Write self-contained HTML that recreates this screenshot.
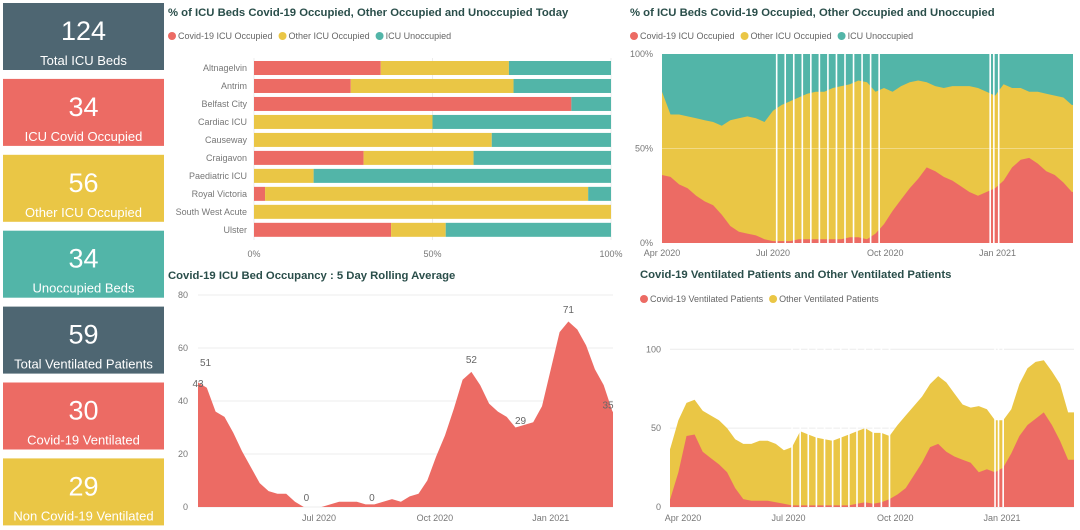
<!DOCTYPE html>
<html><head><meta charset="utf-8">
<style>
html,body{margin:0;padding:0;background:#fff;}
svg{display:block;font-family:"Liberation Sans",sans-serif;}
.t{font-size:11.3px;font-weight:bold;fill:#2a4e4a;}
.lg{font-size:9px;fill:#666;}
.ax{font-size:9px;fill:#777;}
</style></head>
<body>
<svg id="s" width="1080" height="530" viewBox="0 0 1080 530">
<g id="cards"></g>
<g id="bars">
  <text class="t" x="168" y="16">% of ICU Beds Covid-19 Occupied, Other Occupied and Unoccupied Today</text>
</g>
<g id="pct">
  <text class="t" x="630" y="16">% of ICU Beds Covid-19 Occupied, Other Occupied and Unoccupied</text>
</g>
<g id="roll">
  <text class="t" x="168" y="279">Covid-19 ICU Bed Occupancy : 5 Day Rolling Average</text>
</g>
<g id="vent">
  <text class="t" x="640" y="278">Covid-19 Ventilated Patients and Other Ventilated Patients</text>
</g>
</svg>
<script>
// ---- KPI data ----
const kpiValues = [124, 34, 56, 34, 59, 30, 29];
const kpiLabels = ["Total ICU Beds","ICU Covid Occupied","Other ICU Occupied","Unoccupied Beds","Total Ventilated Patients","Covid-19 Ventilated","Non Covid-19 Ventilated"];
// ---- today bar chart ----
const hospitals = ["Altnagelvin","Antrim","Belfast City","Cardiac ICU","Causeway","Craigavon","Paediatric ICU","Royal Victoria","South West Acute","Ulster"];
const covidToday = [35.5,27.1,88.9,0,0,30.7,0,3.1,0,38.4];
const otherToday = [35.9,45.6,0,50,66.6,30.8,16.7,90.5,100,15.3];
const pctTicks = ["0%","50%","100%"];
// ---- percent over time (weekly, day offset from 1 Apr 2020) ----
const pctCovid = [36,35,31,29,25,22,20,15,9,6,5,4,2,1,1,1,2,2,2,2,2,2,3,3,2,5,10,17,23,29,34,40,38,35,33,30,27,25,27,29,33,40,44,45,42,38,36,32,27];
const pctOther = [44,33,37,38,41,43,44,47,56,60,62,62,62,69,72,74,75,77,78,78,80,81,81,83,83,75,72,63,60,56,52,45,45,47,50,53,56,57,53,49,51,42,38,35,38,41,42,45,46];
const gapDays = [94,101,108,115,122,129,136,143,150,157,164,171,178,269,272,276];
const monthLabels = ["Apr 2020","Jul 2020","Oct 2020","Jan 2021"];
const monthDays = [0,91,183,275];
// ---- rolling average (weekly, day offset from 6 Apr 2020) ----
const rollAvg = [47,45,36,34,28,21,15,9,6,5,5,2,0,0,0,1,2,2,2,1,1,2,3,2,4,5,10,19,27,37,48,51,46,39,36,34,30,31,32,38,52,66,70,67,61,52,46,36];
const rollLabelDays = [0,6,86,138,217,256,294,330];
const rollLabelVals = [43,51,0,0,52,29,71,35];
const rollTicks = [0,20,40,60,80];
// ---- ventilated (weekly, day offset from 1 Apr 2020, starting -11) ----
const ventCovid = [5,22,45,46,35,31,27,22,12,5,4,4,4,3,2,1,1,1,1,1,1,1,1,2,3,2,3,5,8,12,20,28,38,40,35,32,30,28,22,24,22,25,34,45,52,56,60,52,42,30];
const ventOther = [32,33,21,22,26,27,28,28,31,35,36,38,38,37,34,37,47,45,43,42,41,43,45,46,47,45,44,40,44,46,44,42,40,43,44,40,35,35,42,38,33,30,28,33,36,36,33,34,36,30];
const ventTicks = [0,50,100];

const RED='#ec6b64',YEL='#eac645',TEAL='#52b5a8',DARK='#4e6672',GRID='#ececec';
const NS='http://www.w3.org/2000/svg';
function mk(tag, parent, at){const e=document.createElementNS(NS,tag);for(const k in at)e.setAttribute(k,at[k]);parent.appendChild(e);return e;}
function txt(parent,x,y,s,cls,anchor){const e=mk('text',parent,{x:x,y:y,'class':cls,'text-anchor':anchor||'start'});e.textContent=s;return e;}

// KPI cards
const cards=document.getElementById('cards');
const cardColors=[DARK,RED,YEL,TEAL,DARK,RED,YEL];
kpiValues.forEach((v,i)=>{
  const y=3+i*75.9;
  const g=mk('g',cards,{});
  
  
  mk('rect',g,{x:3,y:y,width:161,height:67,fill:cardColors[i]});
  const n=txt(g,83.5,y+37,String(v),'','middle');
  n.setAttribute('style','font-size:27px;fill:#fff');
  
  
  const l=txt(g,83.5,y+62,kpiLabels[i],'','middle');
  l.setAttribute('style','font-size:13px;fill:#fff');
  
  
});

function legend(parent,x,y,names,colors){
  let cx=x;
  names.forEach((n,i)=>{
    const g=mk('g',parent,{});
    
    
    mk('circle',g,{cx:cx+4,cy:y-3,r:4,fill:colors[i]});
    const t=txt(g,cx+10,y,n,'lg');
    cx+=10+t.getComputedTextLength()+6;
  });
}

// Today bar chart
const bars=document.getElementById('bars');
legend(bars,168,39,["Covid-19 ICU Occupied","Other ICU Occupied","ICU Unoccupied"],[RED,YEL,TEAL]);
const bx=p=>254+p*3.57;
[0,50,100].forEach((p,i)=>{
  mk('line',bars,{x1:bx(p),x2:bx(p),y1:58,y2:240,stroke:GRID});
  const t=txt(bars,bx(p),257,pctTicks[i],'ax','middle');
  
  
});
hospitals.forEach((h,i)=>{
  const cy=68+i*17.98, y=cy-7;
  const lb=txt(bars,247,cy+3,h,'ax','end');
  
  
  const c=covidToday[i],o=otherToday[i];
  const r1=mk('rect',bars,{x:bx(0),y:y,width:bx(c)-bx(0),height:14,fill:RED});
  
  
  const r2=mk('rect',bars,{x:bx(c),y:y,width:bx(c+o)-bx(c),height:14,fill:YEL});
  
  
  const r3=mk('rect',bars,{x:bx(c+o),y:y,width:Math.max(0,bx(100)-bx(c+o)),height:14,fill:TEAL});
  
  
});

function areaPath(xs,ys,x0,x1,yBase){
  let d='M'+x0+','+yBase+' L'+x0+','+ys[0];
  xs.forEach((x,i)=>{d+=' L'+x.toFixed(1)+','+ys[i].toFixed(1);});
  d+=' L'+x1+','+ys[ys.length-1]+' L'+x1+','+yBase+' Z';
  return d;
}

// Percent over time
const pct=document.getElementById('pct');
legend(pct,630,39,["Covid-19 ICU Occupied","Other ICU Occupied","ICU Unoccupied"],[RED,YEL,TEAL]);
const px=d=>662+d*1.22, py=p=>243-p*1.89;
const pL=662,pR=1073;
const tb=mk('rect',pct,{x:pL,y:py(100),width:pR-pL,height:py(0)-py(100),fill:TEAL});


const pxs=pctCovid.map((v,i)=>px(i*7));
const ay=mk('path',pct,{d:areaPath(pxs,pctCovid.map((v,i)=>py(v+pctOther[i])),pL,pR,py(0)),fill:YEL});


const ar=mk('path',pct,{d:areaPath(pxs,pctCovid.map(v=>py(v)),pL,pR,py(0)),fill:RED});


mk('line',pct,{x1:pL,x2:pR,y1:py(50),y2:py(50),stroke:'#fff','stroke-opacity':0.35});
gapDays.forEach(d=>{
  const g=mk('rect',pct,{x:px(d)-0.8,y:py(100),width:1.6,height:py(0)-py(100),fill:'#fff'});
  
  
});
[0,50,100].forEach(p=>{
  const t=txt(pct,653,py(p)+3,p+'%','ax','end');
  
  
});
monthLabels.forEach((m,i)=>{
  const t=txt(pct,px(monthDays[i]),256,m,'ax','middle');
  
  
});

// Rolling average
const roll=document.getElementById('roll');
const rx=d=>198+d*1.26, ry=v=>507-v*2.65;
rollTicks.forEach(v=>{
  mk('line',roll,{x1:198,x2:613,y1:ry(v),y2:ry(v),stroke:GRID});
  const t=txt(roll,188,ry(v)+3,String(v),'ax','end');
  
  
});
const ra=mk('path',roll,{d:areaPath(rollAvg.map((v,i)=>rx(i*7)),rollAvg.map(ry),198,613,ry(0)),fill:RED});


rollLabelDays.forEach((d,i)=>{
  const t=txt(roll,Math.min(rx(d),608),ry(rollLabelVals[i])-6,String(rollLabelVals[i]),'ax','middle');
  t.setAttribute('style','font-size:10px;fill:#666');
  
  
});
[1,2,3].forEach(i=>{
  const t=txt(roll,rx(monthDays[i]+5),521,monthLabels[i],'ax','middle');
  
  
});

// Ventilated
const vent=document.getElementById('vent');
legend(vent,640,302,["Covid-19 Ventilated Patients","Other Ventilated Patients"],[RED,YEL]);
const vx=d=>683+d*1.16, vy=v=>507-v*1.577;
ventTicks.forEach(v=>{
  mk('line',vent,{x1:670,x2:1074,y1:vy(v),y2:vy(v),stroke:GRID});
  const t=txt(vent,661,vy(v)+3,String(v),'ax','end');
  
  
});
const vxs=ventCovid.map((v,i)=>vx(-11+i*7));
const vyA=mk('path',vent,{d:areaPath(vxs,ventCovid.map((v,i)=>vy(v+ventOther[i])),670,1074,vy(0)),fill:YEL});


const vrA=mk('path',vent,{d:areaPath(vxs,ventCovid.map(vy),670,1074,vy(0)),fill:RED});


gapDays.forEach(d=>{
  const g=mk('rect',vent,{x:vx(d)-0.8,y:vy(110),width:1.6,height:vy(0)-vy(110),fill:'#fff'});
  
  
});
monthLabels.forEach((m,i)=>{
  const t=txt(vent,vx(monthDays[i]),521,m,'ax','middle');
  
  
});
</script>
</body></html>
